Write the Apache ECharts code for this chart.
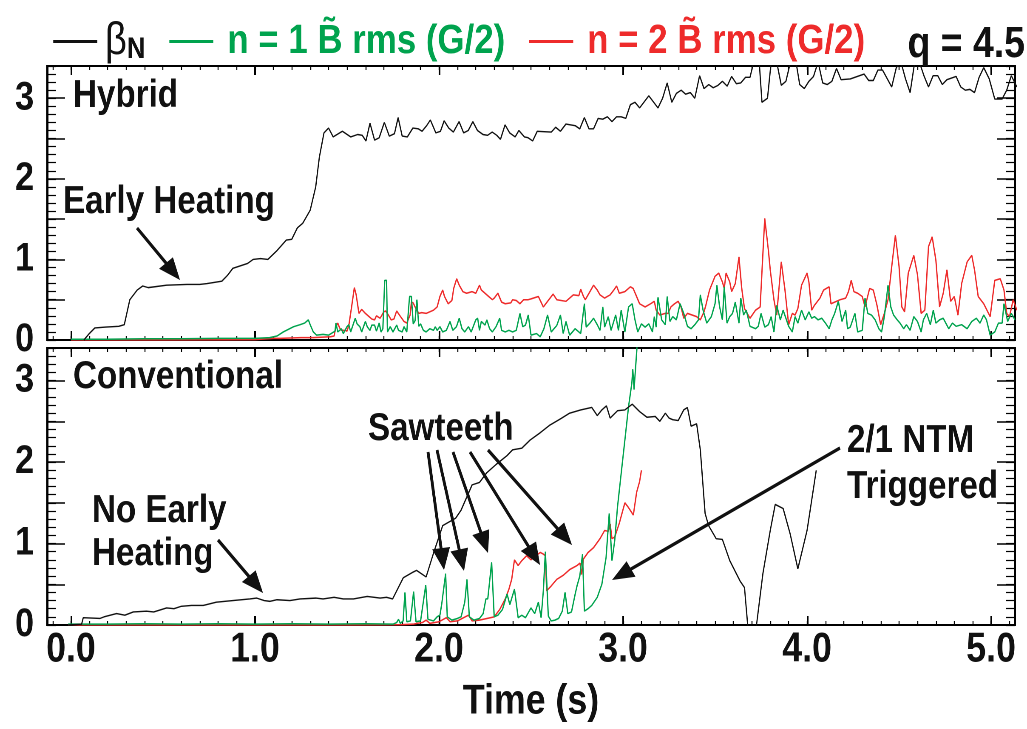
<!DOCTYPE html>
<html><head><meta charset="utf-8">
<script src="https://cdn.jsdelivr.net/npm/echarts@6/dist/echarts.min.js"></script>
<style>
html,body{margin:0;padding:0;background:#fff;overflow:hidden}
#wrap{width:1027px;height:729px;overflow:hidden;position:relative}
#c{width:1208px;height:729px;transform:scaleX(0.850166);transform-origin:0 0;position:absolute;left:0;top:0}
</style>
</head><body><div id="wrap"><div id="c"></div></div>
<script>
// ---------- DATA ----------
const X_MIN = -0.13, X_MAX = 5.13;
const Y_MIN = 0, Y_MAX = 3.4;
const xMajorTicks = [0, 1, 2, 3, 4, 5];
const yMajorTicks = [0, 0.5, 1, 1.5, 2, 2.5, 3];
const yLabelTicks = [0, 1, 2, 3];

// Hybrid (top panel): beta_N
const hybBeta = [[0.07,0.0],[0.10,0.08],[0.13,0.15],[0.19,0.16],[0.26,0.17],[0.29,0.19],[0.32,0.50],[0.36,0.62],[0.39,0.67],[0.42,0.65],[0.52,0.68],[0.63,0.69],[0.70,0.69],[0.74,0.70],[0.82,0.73],[0.85,0.80],[0.88,0.89],[0.96,0.95],[0.99,1.0],[1.03,1.01],[1.07,1.0],[1.12,1.11],[1.17,1.24],[1.20,1.25],[1.23,1.39],[1.26,1.45],[1.30,1.61],[1.33,1.90],[1.35,2.27],[1.375,2.57],[1.40,2.63],[1.425,2.52],[1.475,2.59],[1.52,2.52],[1.558,2.55],[1.583,2.54],[1.603,2.47],[1.625,2.69],[1.65,2.48],[1.675,2.51],[1.703,2.70],[1.73,2.53],[1.758,2.56],[1.778,2.76],[1.80,2.53],[1.828,2.52],[1.858,2.63],[1.888,2.62],[1.908,2.59],[1.933,2.66],[1.953,2.73],[1.983,2.57],[2.008,2.59],[2.028,2.72],[2.053,2.63],[2.078,2.58],[2.109,2.71],[2.134,2.57],[2.159,2.60],[2.184,2.71],[2.209,2.60],[2.239,2.55],[2.264,2.54],[2.289,2.58],[2.314,2.54],[2.334,2.49],[2.359,2.67],[2.384,2.57],[2.414,2.52],[2.434,2.60],[2.464,2.52],[2.484,2.51],[2.509,2.47],[2.534,2.59],[2.61,2.58],[2.634,2.64],[2.66,2.59],[2.69,2.68],[2.74,2.66],[2.765,2.62],[2.79,2.76],[2.815,2.62],[2.84,2.62],[2.865,2.75],[2.89,2.74],[2.915,2.77],[2.94,2.71],[2.965,2.77],[2.99,2.77],[3.015,2.75],[3.04,2.92],[3.065,2.95],[3.09,2.88],[3.14,3.03],[3.19,2.88],[3.215,3.00],[3.24,3.19],[3.265,2.95],[3.29,3.06],[3.316,3.10],[3.34,3.05],[3.366,3.07],[3.39,3.00],[3.416,3.28],[3.44,3.12],[3.466,3.17],[3.49,3.13],[3.516,3.16],[3.54,3.21],[3.566,3.15],[3.59,3.27],[3.616,3.18],[3.64,3.19],[3.666,3.26],[3.69,3.26],[3.71,3.45],[3.74,3.45],[3.755,2.95],[3.785,3.00],[3.805,3.45],[3.835,3.45],[3.86,3.16],[3.885,3.21],[3.91,3.45],[3.94,3.45],[3.96,3.17],[3.985,3.12],[4.01,3.21],[4.035,3.27],[4.06,3.45],[4.085,3.19],[4.11,3.17],[4.135,3.21],[4.16,3.37],[4.185,3.23],[4.235,3.24],[4.285,3.28],[4.31,3.30],[4.335,3.22],[4.36,3.22],[4.385,3.35],[4.41,3.35],[4.46,3.14],[4.485,3.38],[4.51,3.45],[4.535,3.24],[4.56,3.07],[4.585,3.45],[4.61,3.45],[4.635,3.28],[4.66,3.14],[4.685,3.28],[4.71,3.28],[4.735,3.17],[4.76,3.23],[4.81,3.27],[4.835,3.14],[4.86,3.10],[4.885,3.11],[4.91,3.07],[4.935,3.26],[4.96,3.38],[4.99,3.24],[5.02,2.99],[5.06,2.99],[5.085,3.10],[5.11,3.28],[5.14,3.14]];

// Hybrid: n=1 B rms (G/2)
const hybN1 = [[0.0,0.01],[0.2,0.01],[0.4,0.015],[0.6,0.015],[0.8,0.02],[1.0,0.02],[1.08,0.03],[1.12,0.05],[1.154,0.10],[1.21,0.165],[1.245,0.19],[1.27,0.21],[1.29,0.25],[1.30,0.19],[1.317,0.10],[1.335,0.06],[1.37,0.07],[1.40,0.06],[1.435,0.11],[1.44,0.21],[1.45,0.10],[1.47,0.14],[1.48,0.08],[1.50,0.165],[1.51,0.19],[1.52,0.10],[1.545,0.27],[1.555,0.20],[1.57,0.165],[1.58,0.10],[1.60,0.23],[1.61,0.165],[1.625,0.12],[1.635,0.185],[1.65,0.185],[1.66,0.11],[1.675,0.21],[1.685,0.10],[1.695,0.14],[1.705,0.74],[1.715,0.74],[1.72,0.10],[1.735,0.165],[1.75,0.10],[1.77,0.185],[1.78,0.12],[1.80,0.10],[1.81,0.165],[1.825,0.10],[1.84,0.54],[1.85,0.54],[1.86,0.20],[1.87,0.24],[1.88,0.50],[1.89,0.17],[1.90,0.20],[1.915,0.12],[1.93,0.10],[1.95,0.14],[1.97,0.12],[1.98,0.165],[1.99,0.12],[2.005,0.165],[2.02,0.10],[2.04,0.12],[2.06,0.23],[2.075,0.12],[2.095,0.165],[2.11,0.27],[2.125,0.14],[2.14,0.10],[2.16,0.165],[2.175,0.10],[2.20,0.25],[2.21,0.27],[2.22,0.12],[2.23,0.23],[2.25,0.185],[2.26,0.25],[2.275,0.14],[2.29,0.10],[2.31,0.165],[2.33,0.27],[2.34,0.12],[2.36,0.10],[2.38,0.12],[2.40,0.10],[2.42,0.12],[2.44,0.33],[2.455,0.165],[2.47,0.185],[2.485,0.31],[2.50,0.06],[2.53,0.08],[2.55,0.04],[2.57,0.14],[2.59,0.31],[2.61,0.10],[2.64,0.18],[2.66,0.31],[2.675,0.08],[2.69,0.23],[2.71,0.06],[2.74,0.14],[2.77,0.08],[2.79,0.45],[2.80,0.16],[2.82,0.21],[2.84,0.27],[2.86,0.19],[2.875,0.12],[2.89,0.41],[2.90,0.16],[2.92,0.29],[2.935,0.12],[2.96,0.31],[2.975,0.12],[2.99,0.37],[3.01,0.10],[3.03,0.41],[3.05,0.45],[3.065,0.25],[3.08,0.10],[3.10,0.20],[3.12,0.16],[3.14,0.20],[3.16,0.10],[3.17,0.29],[3.18,0.16],[3.19,0.53],[3.21,0.25],[3.23,0.19],[3.24,0.54],[3.255,0.23],[3.27,0.29],[3.29,0.25],[3.31,0.45],[3.33,0.33],[3.35,0.17],[3.37,0.14],[3.39,0.19],[3.41,0.25],[3.42,0.56],[3.435,0.37],[3.455,0.21],[3.48,0.29],[3.50,0.45],[3.51,0.68],[3.525,0.41],[3.54,0.25],[3.55,0.66],[3.565,0.21],[3.58,0.29],[3.595,0.33],[3.61,0.47],[3.63,0.21],[3.64,0.52],[3.655,0.31],[3.67,0.37],[3.69,0.17],[3.72,0.14],[3.735,0.17],[3.75,0.33],[3.77,0.16],[3.79,0.19],[3.805,0.29],[3.82,0.10],[3.835,0.43],[3.855,0.25],[3.87,0.37],[3.90,0.17],[3.92,0.10],[3.935,0.29],[3.95,0.21],[3.97,0.37],[3.99,0.25],[4.01,0.35],[4.025,0.27],[4.04,0.29],[4.06,0.25],[4.08,0.27],[4.10,0.21],[4.12,0.14],[4.135,0.25],[4.15,0.33],[4.17,0.48],[4.19,0.23],[4.21,0.37],[4.22,0.14],[4.235,0.16],[4.26,0.33],[4.275,0.10],[4.30,0.12],[4.315,0.52],[4.33,0.33],[4.35,0.31],[4.37,0.25],[4.39,0.14],[4.405,0.10],[4.42,0.29],[4.44,0.68],[4.455,0.41],[4.47,0.31],[4.49,0.25],[4.505,0.21],[4.525,0.14],[4.54,0.19],[4.56,0.12],[4.58,0.29],[4.60,0.23],[4.62,0.10],[4.632,0.25],[4.65,0.33],[4.67,0.19],[4.686,0.37],[4.70,0.21],[4.72,0.25],[4.74,0.27],[4.77,0.14],[4.79,0.21],[4.81,0.17],[4.84,0.19],[4.87,0.14],[4.895,0.23],[4.92,0.27],[4.94,0.21],[4.96,0.31],[4.975,0.25],[4.995,0.06],[5.02,0.10],[5.04,0.21],[5.06,0.21],[5.07,0.45],[5.09,0.23],[5.11,0.33],[5.13,0.25]];

// Hybrid: n=2 B rms (G/2)
const hybN2 = [[0.0,0.0],[0.5,0.0],[1.0,0.005],[1.10,0.02],[1.136,0.02],[1.25,0.03],[1.317,0.03],[1.41,0.04],[1.43,0.05],[1.44,0.165],[1.45,0.21],[1.46,0.15],[1.47,0.12],[1.49,0.12],[1.50,0.11],[1.51,0.18],[1.525,0.41],[1.54,0.65],[1.55,0.56],[1.565,0.33],[1.58,0.38],[1.60,0.33],[1.62,0.29],[1.635,0.26],[1.65,0.25],[1.66,0.30],[1.68,0.27],[1.70,0.35],[1.71,0.36],[1.725,0.31],[1.74,0.25],[1.755,0.26],[1.77,0.36],[1.788,0.30],[1.81,0.23],[1.825,0.21],[1.843,0.31],[1.85,0.47],[1.86,0.46],[1.87,0.41],[1.89,0.33],[1.906,0.34],[1.93,0.33],[1.95,0.35],[1.97,0.37],[1.99,0.41],[2.005,0.54],[2.02,0.62],[2.03,0.54],[2.05,0.45],[2.07,0.49],[2.08,0.64],[2.096,0.76],[2.11,0.68],[2.13,0.60],[2.15,0.58],[2.18,0.60],[2.20,0.58],[2.22,0.68],[2.23,0.62],[2.25,0.58],[2.27,0.54],[2.29,0.50],[2.30,0.52],[2.32,0.58],[2.34,0.47],[2.36,0.45],[2.39,0.46],[2.40,0.50],[2.42,0.49],[2.44,0.45],[2.46,0.50],[2.485,0.50],[2.50,0.51],[2.54,0.54],[2.567,0.41],[2.59,0.48],[2.62,0.57],[2.64,0.50],[2.69,0.48],[2.73,0.56],[2.76,0.55],[2.77,0.63],[2.785,0.54],[2.795,0.50],[2.82,0.60],[2.84,0.68],[2.86,0.62],[2.875,0.56],[2.90,0.52],[2.93,0.56],[2.95,0.62],[2.965,0.67],[2.98,0.58],[3.01,0.60],[3.04,0.66],[3.055,0.64],[3.07,0.56],[3.09,0.45],[3.12,0.41],[3.15,0.45],[3.17,0.48],[3.18,0.37],[3.20,0.31],[3.23,0.33],[3.245,0.33],[3.26,0.41],[3.28,0.45],[3.30,0.48],[3.315,0.41],[3.33,0.27],[3.35,0.33],[3.375,0.31],[3.40,0.29],[3.42,0.25],[3.44,0.35],[3.45,0.43],[3.47,0.62],[3.50,0.79],[3.52,0.83],[3.54,0.72],[3.55,0.64],[3.56,0.83],[3.58,0.72],[3.59,0.60],[3.61,0.70],[3.63,1.03],[3.645,0.64],[3.66,0.39],[3.69,0.27],[3.72,0.37],[3.745,0.41],[3.76,1.07],[3.77,1.51],[3.79,1.11],[3.80,0.87],[3.82,0.50],[3.835,0.31],[3.86,0.97],[3.88,0.62],[3.90,0.19],[3.92,0.33],[3.935,0.31],[3.95,0.39],[3.97,0.68],[4.0,0.83],[4.01,0.72],[4.025,0.37],[4.04,0.43],[4.07,0.52],[4.09,0.62],[4.12,0.66],[4.13,0.45],[4.16,0.48],[4.18,0.50],[4.21,0.52],[4.225,0.60],[4.24,0.74],[4.255,0.60],[4.275,0.58],[4.30,0.54],[4.315,0.41],[4.34,0.64],[4.36,0.62],[4.38,0.43],[4.40,0.19],[4.42,0.33],[4.44,0.50],[4.46,0.91],[4.48,1.30],[4.50,0.91],[4.515,0.41],[4.53,0.35],[4.55,0.83],[4.58,1.05],[4.60,0.81],[4.62,0.33],[4.64,0.37],[4.66,1.16],[4.68,1.28],[4.70,0.99],[4.72,0.41],[4.74,0.58],[4.76,0.87],[4.78,0.48],[4.80,0.54],[4.82,0.31],[4.84,0.70],[4.87,0.97],[4.895,1.05],[4.91,0.87],[4.93,0.54],[4.96,0.45],[4.995,0.29],[5.02,0.74],[5.05,0.76],[5.07,0.62],[5.085,0.33],[5.10,0.29],[5.12,0.50],[5.14,0.37]];

// Conventional (bottom panel): beta_N
const convBeta = [[-0.015,0.0],[0.058,0.01],[0.067,0.09],[0.157,0.08],[0.18,0.10],[0.248,0.14],[0.293,0.12],[0.339,0.16],[0.41,0.17],[0.45,0.16],[0.52,0.21],[0.56,0.20],[0.60,0.23],[0.655,0.24],[0.719,0.24],[0.79,0.28],[0.88,0.30],[0.972,0.32],[1.01,0.33],[1.05,0.30],[1.082,0.29],[1.12,0.31],[1.19,0.30],[1.245,0.32],[1.33,0.33],[1.37,0.32],[1.43,0.34],[1.48,0.32],[1.535,0.32],[1.61,0.35],[1.68,0.33],[1.715,0.34],[1.748,0.32],[1.806,0.58],[1.86,0.65],[1.878,0.67],[1.93,0.59],[1.97,0.88],[2.02,1.22],[2.09,1.31],[2.12,1.41],[2.18,1.72],[2.22,1.75],[2.26,1.87],[2.31,1.97],[2.37,2.08],[2.40,2.15],[2.45,2.17],[2.495,2.27],[2.55,2.36],[2.60,2.45],[2.66,2.53],[2.71,2.60],[2.77,2.64],[2.83,2.67],[2.86,2.57],[2.885,2.64],[2.91,2.69],[2.93,2.54],[2.97,2.63],[3.01,2.64],[3.05,2.71],[3.09,2.62],[3.13,2.55],[3.175,2.56],[3.20,2.50],[3.23,2.60],[3.25,2.54],[3.27,2.52],[3.30,2.51],[3.33,2.64],[3.35,2.67],[3.37,2.44],[3.40,2.47],[3.42,2.15],[3.446,1.37],[3.465,1.22],[3.506,1.06],[3.54,1.05],[3.58,0.79],[3.636,0.54],[3.66,0.46],[3.687,-0.25],[3.71,-0.25],[3.727,0.03],[3.76,0.63],[3.80,1.16],[3.827,1.48],[3.87,1.43],[3.908,1.12],[3.95,0.69],[4.0,1.16],[4.05,1.90]];

// Conventional: n=1 B rms (G/2)
const convN1 = [[-0.015,0.01],[0.2,0.01],[0.4,0.015],[0.6,0.01],[0.8,0.015],[1.0,0.01],[1.2,0.015],[1.4,0.01],[1.6,0.015],[1.75,0.01],[1.77,0.03],[1.78,0.07],[1.79,0.02],[1.805,0.05],[1.815,0.40],[1.825,0.04],[1.845,0.05],[1.862,0.41],[1.875,0.04],[1.90,0.05],[1.928,0.49],[1.94,0.07],[1.97,0.05],[1.99,0.10],[2.005,0.12],[2.015,0.26],[2.036,0.63],[2.045,0.10],[2.07,0.06],[2.10,0.08],[2.12,0.10],[2.14,0.28],[2.152,0.56],[2.165,0.10],[2.19,0.06],[2.22,0.08],[2.24,0.14],[2.255,0.32],[2.265,0.32],[2.286,0.77],[2.30,0.10],[2.32,0.12],[2.345,0.19],[2.37,0.38],[2.385,0.25],[2.41,0.44],[2.43,0.09],[2.45,0.12],[2.47,0.09],[2.50,0.21],[2.52,0.14],[2.54,0.28],[2.555,0.09],[2.567,0.42],[2.578,0.90],[2.594,0.11],[2.61,0.05],[2.63,0.06],[2.65,0.08],[2.67,0.17],[2.685,0.40],[2.70,0.14],[2.72,0.16],[2.74,0.38],[2.75,0.48],[2.765,0.60],[2.78,0.87],[2.79,0.17],[2.81,0.20],[2.83,0.24],[2.86,0.34],[2.885,0.50],[2.908,0.83],[2.925,1.37],[2.94,0.79],[2.955,1.04],[2.97,1.45],[2.99,1.86],[3.01,2.27],[3.03,2.68],[3.048,2.97],[3.053,3.14],[3.06,2.89],[3.075,3.38],[3.085,3.9]];

// Conventional: n=2 B rms (G/2)
const convN2 = [[-0.015,0.0],[0.5,0.0],[1.0,0.0],[1.5,0.0],[1.8,0.005],[1.86,0.01],[1.88,0.02],[1.91,0.03],[1.93,0.06],[1.95,0.02],[2.0,0.04],[2.04,0.09],[2.06,0.04],[2.10,0.05],[2.16,0.12],[2.18,0.05],[2.22,0.06],[2.26,0.08],[2.30,0.10],[2.33,0.19],[2.36,0.32],[2.38,0.44],[2.395,0.56],[2.41,0.80],[2.43,0.73],[2.45,0.79],[2.476,0.85],[2.50,0.80],[2.52,0.84],[2.55,0.89],[2.567,0.87],[2.578,0.85],[2.585,0.42],[2.61,0.48],[2.64,0.56],[2.675,0.61],[2.71,0.68],[2.75,0.73],[2.766,0.76],[2.775,0.62],[2.785,0.81],[2.81,0.89],[2.84,0.95],[2.875,1.06],[2.90,1.16],[2.92,1.15],[2.93,1.24],[2.94,1.06],[2.955,1.08],[2.98,1.25],[3.01,1.50],[3.03,1.44],[3.056,1.35],[3.074,1.63],[3.09,1.76],[3.10,1.90]];

const seriesNames = ['β_N', 'n = 1 B\u0303 rms (G/2)', 'n = 2 B\u0303 rms (G/2)'];
const seriesColors = ['#111111', '#00a34e', '#ee2b2b'];

// ---------- STYLE / LAYOUT ----------
// The chart is laid out on a wider canvas and condensed horizontally (CSS scaleX) to get a condensed bold type look.
const SX = 1027 / 1208;
const X = px => px / SX;   // page pixel -> canvas pixel (horizontal)
const FONT = "'Liberation Sans','Arial',sans-serif";
const FS = 39;
const grids = [
  { left: X(47), top: 66, width: X(968), height: 274 },
  { left: X(47), top: 348, width: X(968), height: 277 }
];
function range(a, b, s) { const r = []; for (let v = a; v <= b + 1e-9; v += s) r.push(Math.round(v * 100) / 100); return r; }
const xMinorTicks = range(-0.1, 5.1, 0.1);
const yMinorTicks = range(0, 3.4, 0.1);

const axisLineStyle = { color: '#000', width: 2 };
function makeXAxes(g, withLabels) {
  const out = [];
  ['bottom', 'top'].forEach(pos => {
    out.push({
      type: 'value', gridIndex: g, position: pos, min: X_MIN, max: X_MAX,
      axisLine: { show: true, onZero: false, lineStyle: axisLineStyle },
      axisTick: { show: true, inside: true, length: 9, customValues: xMajorTicks, lineStyle: { color: '#000', width: 2 } },
      axisLabel: (withLabels && pos === 'bottom') ? {
        show: true, customValues: xMajorTicks, formatter: v => v.toFixed(1), margin: 4,
        fontFamily: FONT, fontSize: 42, fontWeight: 'bold', color: '#111'
      } : { show: false },
      splitLine: { show: false },
      name: (withLabels && pos === 'bottom') ? 'Time (s)' : '',
      nameLocation: 'middle', nameGap: 56,
      nameTextStyle: { fontFamily: FONT, fontSize: 42, fontWeight: 'bold', color: '#111' }
    });
    out.push({
      type: 'value', gridIndex: g, position: pos, min: X_MIN, max: X_MAX,
      axisLine: { show: false, onZero: false },
      axisTick: { show: true, inside: true, length: 4, customValues: xMinorTicks, lineStyle: { color: '#000', width: 1.2 } },
      axisLabel: { show: false }, splitLine: { show: false }
    });
  });
  return out;
}
function makeYAxes(g) {
  const out = [];
  ['left', 'right'].forEach(pos => {
    out.push({
      type: 'value', gridIndex: g, position: pos, min: Y_MIN, max: Y_MAX,
      axisLine: { show: true, onZero: false, lineStyle: axisLineStyle },
      axisTick: { show: true, inside: true, length: X(18), customValues: yMajorTicks, lineStyle: { color: '#000', width: 1.5 } },
      axisLabel: pos === 'left' ? {
        show: true, customValues: yLabelTicks, margin: X(13), padding: [0, 0, 18, 0],
        fontFamily: FONT, fontSize: 40, fontWeight: 'bold', color: '#111'
      } : { show: false },
      splitLine: { show: false }
    });
    out.push({
      type: 'value', gridIndex: g, position: pos, min: Y_MIN, max: Y_MAX,
      axisLine: { show: false, onZero: false },
      axisTick: { show: true, inside: true, length: X(9), customValues: yMinorTicks, lineStyle: { color: '#000', width: 1.2 } },
      axisLabel: { show: false }, splitLine: { show: false }
    });
  });
  return out;
}

function lineSeries(nameIdx, data, g, width) {
  return {
    type: 'line', name: seriesNames[nameIdx], data: data,
    xAxisIndex: g * 4, yAxisIndex: g * 4,
    showSymbol: false, symbol: 'none', clip: true, animation: false,
    lineStyle: { color: seriesColors[nameIdx], width: width },
    itemStyle: { color: seriesColors[nameIdx] },
    z: nameIdx === 0 ? 3 : (nameIdx === 1 ? 2 : 1)
  };
}

// annotation callout arrows (page pixel layout)
function arrow(x1, y1, x2, y2) {
  const L = 22, W = 9;
  const dx = x2 - x1, dy = y2 - y1, d = Math.hypot(dx, dy);
  const ux = dx / d, uy = dy / d;
  const bx = x2 - ux * L, by = y2 - uy * L;
  const P = (x, y) => [X(x), y];
  const b = P(bx + ux * 2, by + uy * 2);
  return [
    { type: 'line', shape: { x1: X(x1), y1: y1, x2: b[0], y2: b[1] }, style: { stroke: '#111', lineWidth: 3.4 }, z: 50 },
    { type: 'polygon', shape: { points: [P(x2, y2), P(bx - uy * W, by + ux * W), P(bx + uy * W, by - ux * W)] }, style: { fill: '#111' }, z: 50 }
  ];
}
function label(text, x, y, align, size) {
  return {
    type: 'text', x: X(x), y: y, z: 60,
    style: { text: text, fontFamily: FONT, fontSize: size || FS, fontWeight: 'bold', fill: '#111', align: align || 'left', verticalAlign: 'middle' }
  };
}

const graphics = [
  label('Hybrid', 73, 96),
  label('Early Heating', 63, 202),
  label('Conventional', 73, 377),
  label('No Early', 92, 511),
  label('Heating', 92, 554),
  label('Sawteeth', 368, 429),
  label('2/1 NTM', 847, 441),
  label('Triggered', 847, 487),
  label('q = 4.5', 1025, 45, 'right', 44)
].concat(
  arrow(137, 228, 180, 280),
  arrow(218, 540, 263, 593),
  arrow(428, 452, 444, 570),
  arrow(437, 450, 464, 571),
  arrow(453, 452, 488, 553),
  arrow(470, 452, 540, 565),
  arrow(488, 450, 572, 545),
  arrow(840, 448, 612, 580)
);

const option = {
  animation: false,
  backgroundColor: '#fff',
  grid: grids.map(g => Object.assign({ show: true, borderColor: '#000', borderWidth: 2, backgroundColor: 'transparent' }, g)),
  xAxis: makeXAxes(0, false).concat(makeXAxes(1, true)),
  yAxis: makeYAxes(0).concat(makeYAxes(1)),
  legend: {
    left: X(49), top: 14, icon: 'rect', itemWidth: X(44), itemHeight: 3, itemGap: X(24),
    selectedMode: false,
    data: [
      { name: seriesNames[0], textStyle: { color: '#111' } },
      { name: seriesNames[1], textStyle: { color: seriesColors[1] } },
      { name: seriesNames[2], textStyle: { color: seriesColors[2] } }
    ],
    formatter: function (name) { return name === seriesNames[0] ? '{b|β}{s|N}' : ' ' + name; },
    textStyle: {
      fontFamily: FONT, fontSize: 41, fontWeight: 'bold',
      rich: {
        b: { fontFamily: FONT, fontSize: 45, fontWeight: 'normal', color: '#111', lineHeight: 46, padding: [0, 0, 0, 4] },
        s: { fontFamily: FONT, fontSize: 30, fontWeight: 'bold', color: '#111', verticalAlign: 'bottom', lineHeight: 16 }
      }
    }
  },
  series: [
    lineSeries(2, hybN2, 0, 1.5),
    lineSeries(1, hybN1, 0, 1.5),
    lineSeries(0, hybBeta, 0, 1.4),
    lineSeries(2, convN2, 1, 1.5),
    lineSeries(1, convN1, 1, 1.5),
    lineSeries(0, convBeta, 1, 1.4)
  ],
  graphic: graphics
};

const chart = echarts.init(document.getElementById('c'), null, { renderer: 'canvas', devicePixelRatio: 2 });
chart.setOption(option);
</script>
</body></html>
